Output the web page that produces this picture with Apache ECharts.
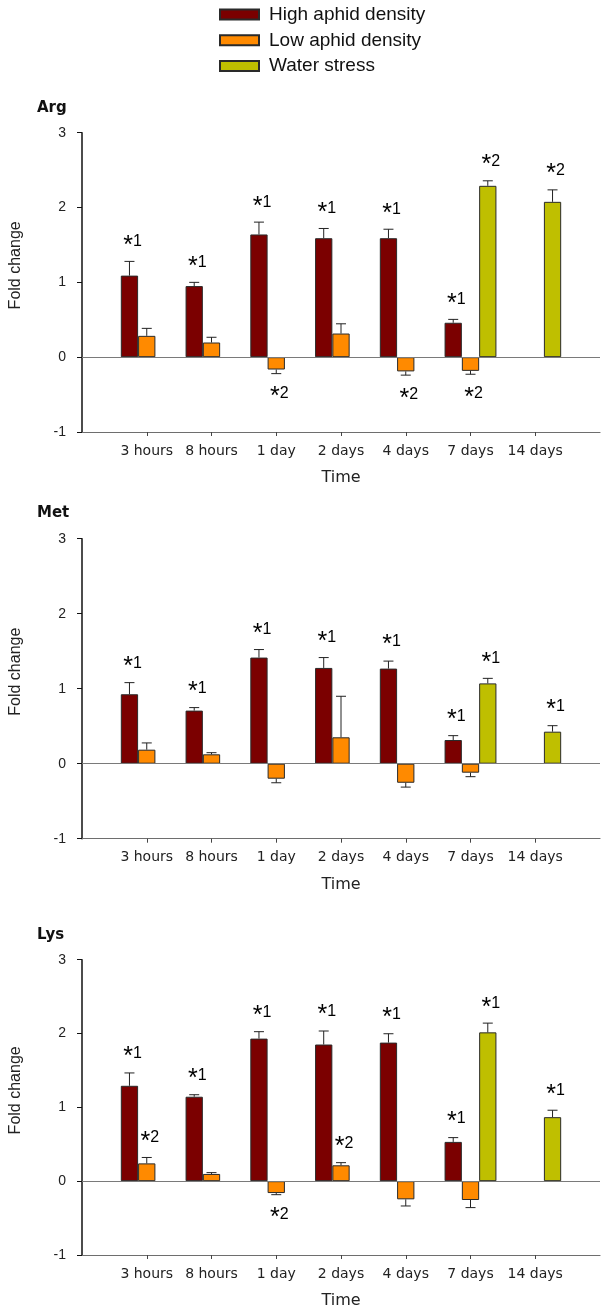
<!DOCTYPE html>
<html>
<head>
<meta charset="utf-8">
<script src="https://cdn.jsdelivr.net/npm/echarts@6/dist/echarts.min.js"></script>
<style>
  html, body { margin: 0; padding: 0; background: #fff; }
  #chart { width: 603px; height: 1310px; }
</style>
</head>
<body>
<div id="chart"></div>
<script>
// ---------- data ----------
const categories = ['', '3 hours', '8 hours', '1 day', '2 days', '4 days', '7 days', '14 days', ''];
const seriesNames = ['High aphid density', 'Low aphid density', 'Water stress'];
const panelTitles = ['Arg', 'Met', 'Lys'];
const yTicks = [-1, 0, 1, 2, 3];

// Arg
const argHigh     = [null, 1.09, 0.95, 1.64, 1.59, 1.59, 0.46, null, null];
const argHighErr  = [null, 0.19, 0.05, 0.165, 0.13, 0.12, 0.045, null, null];
const argLow      = [null, 0.285, 0.196, -0.165, 0.316, -0.19, -0.183, null, null];
const argLowErr   = [null, 0.10, 0.07, 0.055, 0.13, 0.05, 0.045, null, null];
const argWater    = [null, null, null, null, null, null, 2.29, 2.076, null];
const argWaterErr = [null, null, null, null, null, null, 0.067, 0.16, null];
const argHighSig  = ['', '1', '1', '1', '1', '1', '1', '', ''];
const argLowSig   = ['', '', '', '2', '', '2', '2', '', ''];
const argWaterSig = ['', '', '', '', '', '', '2', '2', ''];

// Met
const metHigh     = [null, 0.926, 0.708, 1.415, 1.277, 1.268, 0.316, null, null];
const metHighErr  = [null, 0.155, 0.04, 0.107, 0.138, 0.10, 0.058, null, null];
const metLow      = [null, 0.187, 0.125, -0.20, 0.352, -0.254, -0.12, null, null];
const metLowErr   = [null, 0.09, 0.022, 0.054, 0.547, 0.058, 0.053, null, null];
const metWater    = [null, null, null, null, null, null, 1.071, 0.427, null];
const metWaterErr = [null, null, null, null, null, null, 0.067, 0.08, null];
const metHighSig  = ['', '1', '1', '1', '1', '1', '1', '', ''];
const metLowSig   = ['', '', '', '', '', '', '', '', ''];
const metWaterSig = ['', '', '', '', '', '', '1', '1', ''];

// Lys
const lysHigh     = [null, 1.292, 1.144, 1.931, 1.851, 1.877, 0.532, null, null];
const lysHighErr  = [null, 0.174, 0.027, 0.094, 0.183, 0.12, 0.058, null, null];
const lysLow      = [null, 0.241, 0.098, -0.161, 0.215, -0.246, -0.255, null, null];
const lysLowErr   = [null, 0.08, 0.018, 0.022, 0.036, 0.09, 0.103, null, null];
const lysWater    = [null, null, null, null, null, null, 2.016, 0.867, null];
const lysWaterErr = [null, null, null, null, null, null, 0.125, 0.094, null];
const lysHighSig  = ['', '1', '1', '1', '1', '1', '1', '', ''];
const lysLowSig   = ['', '2', '', '2', '2', '', '', '', ''];
const lysWaterSig = ['', '', '', '', '', '', '1', '1', ''];

// ---------- styling / layout ----------
const COLORS = ['#7b0000', '#ff8a00', '#bfbf00'];
const BAR_FRAC = 0.267;
const panels = [
  { vals: [argHigh, argLow, argWater], errs: [argHighErr, argLowErr, argWaterErr], sigs: [argHighSig, argLowSig, argWaterSig], top: 132.7, height: 299.3, titleTop: 101 },
  { vals: [metHigh, metLow, metWater], errs: [metHighErr, metLowErr, metWaterErr], sigs: [metHighSig, metLowSig, metWaterSig], top: 538.7, height: 300, titleTop: 506 },
  { vals: [lysHigh, lysLow, lysWater], errs: [lysHighErr, lysLowErr, lysWaterErr], sigs: [lysHighSig, lysLowSig, lysWaterSig], top: 959.7, height: 298, titleTop: 928 }
];

const richSig = {
  a: { fontSize: 25, fontFamily: 'Liberation Sans, Arial', color: '#111', padding: [8, 0, 0, 0] },
  b: { fontSize: 16, fontFamily: 'Liberation Sans, Arial', color: '#111' }
};

function makeRender(labels) {
  return function (params, api) {
    const i = api.value(0), v = api.value(1), e = api.value(2), s = api.value(3);
    const bw = api.size([1, 0])[0];
    const barW = bw * BAR_FRAC;
    const x = api.coord([i, v])[0] + (s - 1) * barW;
    const base = api.coord([i, v]);
    const tip = api.coord([i, v >= 0 ? v + e : v - e]);
    const children = [
      { type: 'line', shape: { x1: x, y1: base[1], x2: x, y2: tip[1] }, style: { stroke: '#222', lineWidth: 1 } },
      { type: 'line', shape: { x1: x - 5, y1: tip[1], x2: x + 5, y2: tip[1] }, style: { stroke: '#222', lineWidth: 1 } }
    ];
    const lab = labels[params.dataIndex];
    if (lab) {
      const up = v >= 0;
      children.push({
        type: 'text',
        style: {
          text: '{a|*}{b|' + lab + '}',
          x: x + 3,
          y: up ? tip[1] - 3 : tip[1] + 3,
          align: 'center',
          verticalAlign: up ? 'bottom' : 'top',
          rich: richSig
        }
      });
    }
    return { type: 'group', children: children };
  };
}

const grids = [], xAxes = [], yAxes = [], series = [], titles = [];
panels.forEach(function (p, gi) {
  grids.push({ left: 75.3, right: 1.3, top: p.top, height: p.height, containLabel: false });
  titles.push({ text: panelTitles[gi], left: 37, top: p.titleTop, padding: 0,
    textStyle: { fontFamily: 'DejaVu Sans', fontWeight: 'bold', fontSize: 15, color: '#111' } });
  xAxes.push({
    type: 'category', gridIndex: gi, data: categories, boundaryGap: false,
    name: 'Time', nameLocation: 'middle', nameGap: 38,
    nameTextStyle: { fontFamily: 'DejaVu Sans', fontSize: 16, color: '#222' },
    axisLine: { onZero: false, lineStyle: { color: '#6e6e6e', width: 1.2 } },
    axisTick: { length: 4, lineStyle: { color: '#444' }, interval: function (idx) { return idx > 0 && idx < categories.length - 1; } },
    axisLabel: { interval: 0, margin: 12, fontFamily: 'DejaVu Sans', fontSize: 14, color: '#222' },
    splitLine: { show: false }
  });
  yAxes.push({
    type: 'value', gridIndex: gi, min: yTicks[0], max: yTicks[yTicks.length - 1], interval: 1,
    name: 'Fold change', nameLocation: 'middle', nameGap: 58,
    nameTextStyle: { fontFamily: 'Liberation Sans, Arial', fontSize: 16, color: '#222', padding: [0, 0, 0, 34] },
    axisLine: { show: true, lineStyle: { color: '#111', width: 1.5 } },
    axisTick: { show: true, length: 5, lineStyle: { color: '#111' } },
    axisLabel: { margin: 16, fontFamily: 'Liberation Sans, Arial', fontSize: 14, color: '#222' },
    splitLine: { show: false }
  });
  p.vals.forEach(function (vals, s) {
    const ser = {
      name: seriesNames[s], type: 'bar', xAxisIndex: gi, yAxisIndex: gi,
      data: vals, barWidth: (BAR_FRAC * 100) + '%', barGap: '0%',
      itemStyle: { color: COLORS[s], borderColor: '#2a2a2a', borderWidth: 1 },
      z: 2
    };
    if (s === 0) {
      ser.markLine = {
        silent: true, symbol: ['none', 'none'], label: { show: false },
        lineStyle: { color: '#7a7a7a', type: 'solid', width: 1.2 },
        data: [{ yAxis: 0 }], animation: false
      };
    }
    series.push(ser);
  });
  const cdata = [], clabels = [];
  p.vals.forEach(function (vals, s) {
    vals.forEach(function (v, i) {
      if (v !== null) {
        cdata.push([i, v, p.errs[s][i], s]);
        clabels.push(p.sigs[s][i]);
      }
    });
  });
  series.push({
    type: 'custom', xAxisIndex: gi, yAxisIndex: gi, data: cdata,
    renderItem: makeRender(clabels), z: 5, silent: true, clip: false
  });
});

const chart = echarts.init(document.getElementById('chart'), null, { renderer: 'canvas' });
chart.setOption({
  animation: false,
  backgroundColor: '#fff',
  title: titles,
  legend: {
    data: seriesNames, orient: 'vertical', left: 214, top: 0,
    itemWidth: 39, itemHeight: 10, itemGap: 6.8, icon: 'rect',
    textStyle: { fontFamily: 'Liberation Sans, Arial', fontSize: 19, color: '#111', lineHeight: 18, padding: [0, 0, 0, 5] },
    selectedMode: false
  },
  grid: grids,
  xAxis: xAxes,
  yAxis: yAxes,
  series: series
});
</script>
</body>
</html>
